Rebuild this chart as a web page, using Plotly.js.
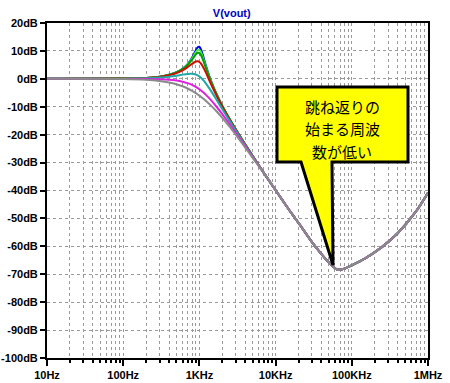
<!DOCTYPE html>
<html>
<head>
<meta charset="utf-8">
<script src="https://cdn.plot.ly/plotly-3.0.1.min.js"></script>
<style>html,body{margin:0;padding:0;background:#fff;}#chart{width:450px;height:383px;}</style>
</head>
<body>
<div id="chart"></div>
<script>
// Frequencies (Hz) around the resonance, and the shared high-frequency tail
const freqPeak = [10, 100, 200, 300, 400, 500, 600, 700, 800, 900, 950, 1000, 1050, 1100, 1200, 1400, 1700, 2000, 2500, 3000, 4000, 5000];
const freqTail = [7000, 10000, 15000, 20000, 30000, 40000, 50000, 64000, 80000, 100000, 150000, 250000, 400000, 700000, 1000000];
const dbTail   = [-33.7, -39.9, -46.9, -51.6, -58.5, -62.8, -65.8, -68.3, -68.0, -66.8, -64.3, -60.2, -55.3, -47.4, -40.8];

// Gain (dB) per stepped trace in the resonance region
const dbBlue    = [0, 0.08, 0.34, 0.79, 1.45, 2.36, 3.61, 5.30, 7.57, 10.28, 11.33, 11.48, 10.51, 8.86, 5.29, -0.26, -5.77, -9.68, -14.47, -18.11, -23.54, -27.62];
const dbLime    = [0, 0.08, 0.34, 0.78, 1.43, 2.33, 3.54, 5.16, 7.25, 9.57, 10.34, 10.37, 9.52, 8.09, 4.87, -0.42, -5.84, -9.72, -14.49, -18.12, -23.55, -27.62];
const dbGreen   = [0, 0.08, 0.33, 0.76, 1.40, 2.28, 3.45, 4.97, 6.87, 8.78, 9.32, 9.25, 8.49, 7.26, 4.38, -0.63, -5.93, -9.77, -14.52, -18.13, -23.56, -27.63];
const dbRed     = [0, 0.08, 0.31, 0.70, 1.28, 2.04, 3.01, 4.17, 5.38, 6.22, 6.29, 6.02, 5.44, 4.60, 2.57, -1.50, -6.33, -10.0, -14.64, -18.21, -23.60, -27.65];
const dbTeal    = [0, 0.05, 0.20, 0.45, 0.77, 1.14, 1.51, 1.77, 1.81, 1.52, 1.22, 0.83, 0.35, -0.19, -1.41, -4.05, -7.75, -10.90, -15.15, -18.54, -23.77, -27.76];
const dbMagenta = [0, -0.02, -0.07, -0.18, -0.35, -0.62, -1.01, -1.52, -2.16, -2.91, -3.32, -3.74, -4.18, -4.64, -5.57, -7.45, -10.18, -12.66, -16.27, -19.31, -24.20, -28.03];
const dbGray    = [0, -0.09, -0.34, -0.75, -1.29, -1.94, -2.67, -3.46, -4.30, -5.15, -5.59, -6.02, -6.46, -6.89, -7.75, -9.43, -11.80, -13.98, -17.21, -20.0, -24.61, -28.30];

const seriesNames  = ["step1", "step2", "step3", "step4", "step5", "step6", "step7"];
const seriesColors = ["#0000ee", "#44ee44", "#00a000", "#cc1100", "#20a8a8", "#e020e0", "#8a8a8a"];
const seriesDb     = [dbBlue, dbLime, dbGreen, dbRed, dbTeal, dbMagenta, dbGray];

const yTickVals = [20, 10, 0, -10, -20, -30, -40, -50, -60, -70, -80, -90, -100];
const yTickText = ["20dB", "10dB", "0dB", "-10dB", "-20dB", "-30dB", "-40dB", "-50dB", "-60dB", "-70dB", "-80dB", "-90dB", "-100dB"];
const xTickVals = [10, 100, 1000, 10000, 100000, 1000000];
const xTickText = ["10Hz", "100Hz", "1KHz", "10KHz", "100KHz", "1MHz"];

const calloutLines = ["跳ね返りの", "始まる周波", "数が低い"];

const xMinor = [];
for (let d = 10; d < 1000000; d *= 10) {
  for (let k = 2; k <= 9; k++) xMinor.push(d * k);
}

const traces = seriesDb.map((arr, i) => ({
  type: "scatter",
  mode: "lines",
  name: seriesNames[i],
  x: freqPeak.concat(freqTail),
  y: arr.concat(dbTail),
  line: {color: seriesColors[i], width: 2, shape: "spline", smoothing: 0.6},
  hoverinfo: "skip"
}));

// callout outline in paper coords
const L = 47, R = 428, T = 23, B = 358;
const px = v => ((v - L) / (R - L)).toFixed(4);
const py = v => ((B - v) / (B - T)).toFixed(4);
const pathPts = [[277, 87], [408, 87], [408, 162], [332, 162], [333, 265], [301, 162], [277, 162]];
const path = "M " + pathPts.map(p => px(p[0]) + "," + py(p[1])).join(" L ") + " Z";
const lineY = [107, 129, 151];

const layout = {
  width: 450, height: 383,
  margin: {l: L, r: 450 - R, t: T, b: 383 - B},
  paper_bgcolor: "#ffffff", plot_bgcolor: "#ffffff",
  showlegend: false,
  font: {family: "Liberation Sans, Arial, sans-serif", color: "#000"},
  title: {text: "<b>V(vout)</b>", font: {size: 11, color: "#0000c0", family: "Liberation Sans, Arial, sans-serif"},
          x: 0.515, xanchor: "center", y: 0.966, yanchor: "middle"},
  xaxis: {
    type: "log", range: [1, 6],
    tickmode: "array", tickvals: xTickVals, ticktext: xTickText.map(t => "<b>" + t + "</b>"),
    ticks: "outside", ticklen: 6, tickwidth: 2, tickcolor: "#000",
    tickfont: {size: 11, color: "#000"},
    showline: true, linecolor: "#000", linewidth: 2, mirror: true,
    showgrid: true, gridcolor: "#9a9a9a", gridwidth: 1, griddash: "dot",
    zeroline: false,
    minor: {tickmode: "array", tickvals: xMinor, ticks: "outside", ticklen: 3, tickwidth: 2, tickcolor: "#000",
            showgrid: true, gridcolor: "#9a9a9a", gridwidth: 1, griddash: "dot"}
  },
  yaxis: {
    range: [-100, 20],
    tickmode: "array", tickvals: yTickVals, ticktext: yTickText.map(t => "<b>" + t + "</b>"),
    ticks: "outside", ticklen: 5, tickwidth: 2, tickcolor: "#000",
    tickfont: {size: 11, color: "#000"},
    showline: true, linecolor: "#000", linewidth: 2, mirror: true,
    showgrid: true, gridcolor: "#9a9a9a", gridwidth: 1, griddash: "dot",
    zeroline: false
  },
  shapes: [{
    type: "path", xref: "paper", yref: "paper", path: path,
    fillcolor: "#ffff00", line: {color: "#000", width: 3}, layer: "above"
  }],
  annotations: calloutLines.map((t, i) => ({
    xref: "paper", yref: "paper", x: px(342), y: py(lineY[i]), xanchor: "center", yanchor: "middle",
    text: t, showarrow: false, align: "center",
    font: {family: "Noto Sans CJK JP, sans-serif", size: 15, color: "#000"}
  }))
};

Plotly.newPlot("chart", traces, layout, {displayModeBar: false, staticPlot: true});
</script>
</body>
</html>
